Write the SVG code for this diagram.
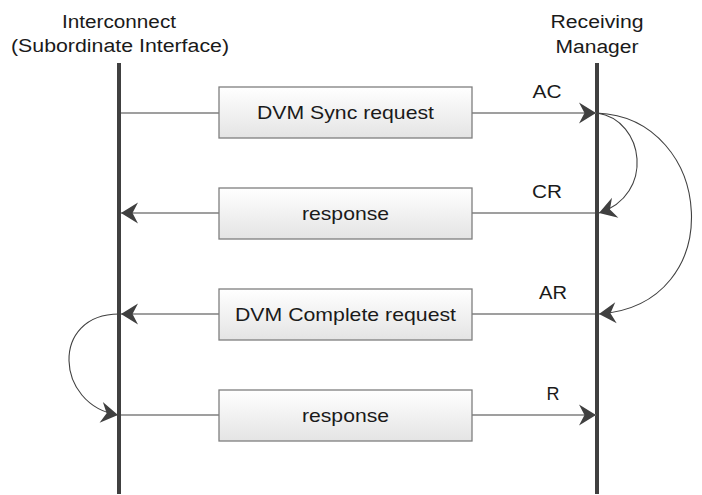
<svg xmlns="http://www.w3.org/2000/svg" width="702" height="495" viewBox="0 0 702 495">
<defs>
<linearGradient id="boxfill" x1="0" y1="0" x2="0" y2="1">
<stop offset="0" stop-color="#ffffff"/>
<stop offset="1" stop-color="#e4e4e4"/>
</linearGradient>
<marker id="arrow" viewBox="-19 -12 21 24" refX="0" refY="0" markerWidth="21" markerHeight="24" markerUnits="userSpaceOnUse" orient="auto">
<path d="M0,0 L-17,-10.5 L-11.5,0 L-17,10.5 Z" fill="#404040"/>
</marker>
</defs>
<style>
.hdr{font-family:"Liberation Sans",Arial,sans-serif;font-size:18px;fill:#1a1a1a;text-anchor:middle}
.lbl{font-family:"Liberation Sans",Arial,sans-serif;font-size:17.5px;fill:#1a1a1a;text-anchor:middle}
.btxt{font-family:"Liberation Sans",Arial,sans-serif;font-size:19px;fill:#1a1a1a;text-anchor:middle}
.life{stroke:#404040;stroke-width:4;fill:none}
.msg{stroke:#7f7f7f;stroke-width:1.5;fill:none}
.curve{stroke:#404040;stroke-width:1.1;fill:none}
.box{fill:url(#boxfill);stroke:#7f7f7f;stroke-width:1.3}
</style>
<rect width="702" height="495" fill="#ffffff"/>
<g id="interconnect">
<text class="hdr" x="119" y="28" textLength="114" lengthAdjust="spacingAndGlyphs">Interconnect</text>
<text class="hdr" x="120" y="52" textLength="218" lengthAdjust="spacingAndGlyphs">(Subordinate Interface)</text>
<line class="life" x1="119" y1="63" x2="119" y2="494"/>
</g>
<g id="receiving-manager">
<text class="hdr" x="597" y="28" textLength="93" lengthAdjust="spacingAndGlyphs">Receiving</text>
<text class="hdr" x="597" y="53" textLength="83" lengthAdjust="spacingAndGlyphs">Manager</text>
<line class="life" x1="597" y1="63" x2="597" y2="494"/>
</g>
<g id="connectors">
<line class="msg" x1="121" y1="113" x2="596" y2="113" marker-end="url(#arrow)"/>
<line class="msg" x1="595" y1="213" x2="121" y2="213" marker-end="url(#arrow)"/>
<line class="msg" x1="595" y1="314" x2="121" y2="314" marker-end="url(#arrow)"/>
<line class="msg" x1="121" y1="415" x2="596" y2="415" marker-end="url(#arrow)"/>
<path class="curve" d="M597,113 C645,120 655,195 599,213" marker-end="url(#arrow)"/>
<path class="curve" d="M597,113 C715,118 730,305 599,314" marker-end="url(#arrow)"/>
<path class="curve" d="M119,314 C50,314 55,405 118,415" marker-end="url(#arrow)"/>
<text class="lbl" x="547" y="98" textLength="29" lengthAdjust="spacingAndGlyphs">AC</text>
<text class="lbl" x="547" y="198" textLength="30" lengthAdjust="spacingAndGlyphs">CR</text>
<text class="lbl" x="553" y="299" textLength="28" lengthAdjust="spacingAndGlyphs">AR</text>
<text class="lbl" x="553" y="400" textLength="13" lengthAdjust="spacingAndGlyphs">R</text>
</g>
<g id="dvm-sync-request">
<rect class="box" x="219" y="87" width="253" height="51"/>
<text class="btxt" x="345.5" y="119" textLength="177" lengthAdjust="spacingAndGlyphs">DVM Sync request</text>
</g>
<g id="response-1">
<rect class="box" x="219" y="188" width="253" height="51"/>
<text class="btxt" x="345.5" y="220" textLength="87" lengthAdjust="spacingAndGlyphs">response</text>
</g>
<g id="dvm-complete-request">
<rect class="box" x="219" y="289" width="253" height="51"/>
<text class="btxt" x="345.5" y="321" textLength="221" lengthAdjust="spacingAndGlyphs">DVM Complete request</text>
</g>
<g id="response-2">
<rect class="box" x="219" y="390" width="253" height="51"/>
<text class="btxt" x="345.5" y="422" textLength="87" lengthAdjust="spacingAndGlyphs">response</text>
</g>
</svg>
